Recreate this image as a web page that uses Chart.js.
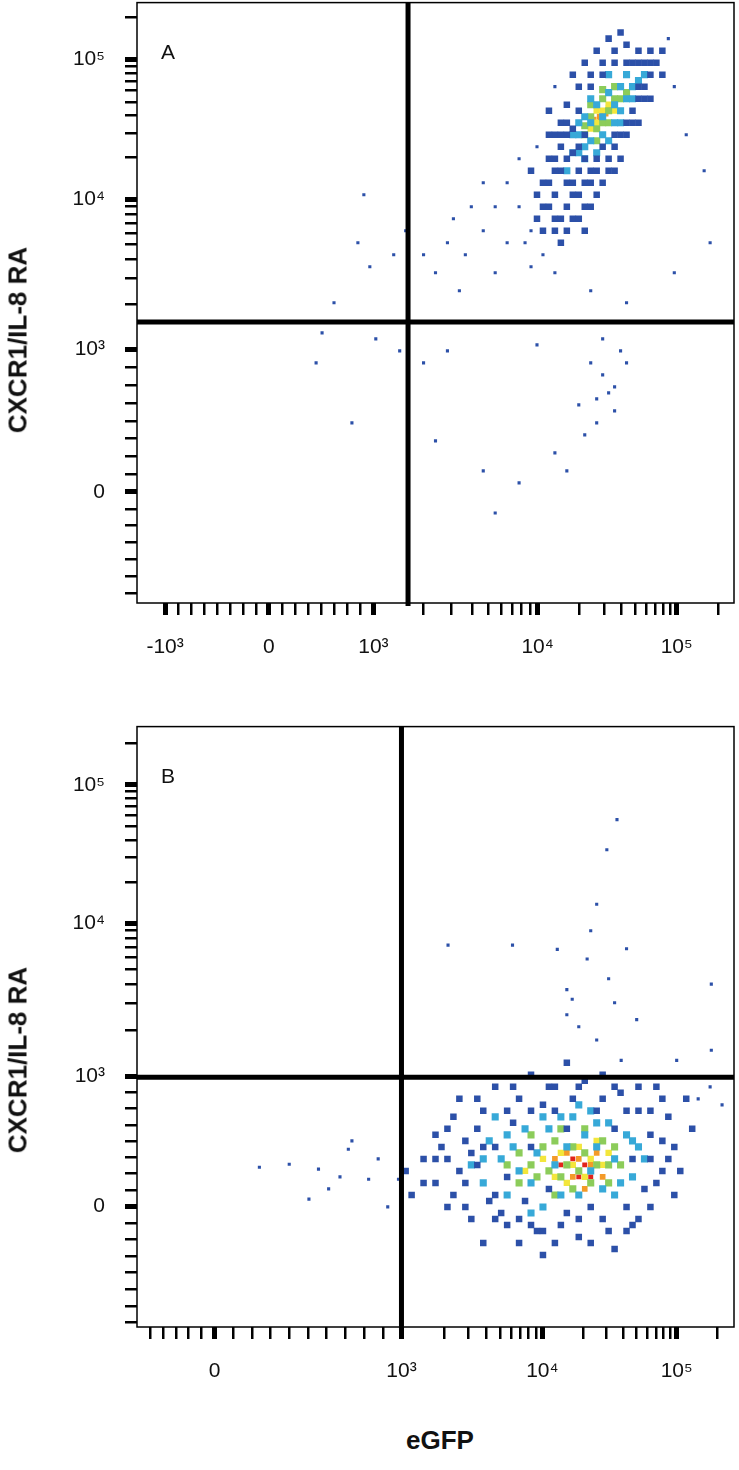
<!DOCTYPE html>
<html><head><meta charset="utf-8">
<script src="https://cdn.jsdelivr.net/npm/chart.js@4"></script>
<style>
body{margin:0;background:#fff;width:739px;height:1470px;position:relative;overflow:hidden;font-family:"Liberation Sans",Arial,sans-serif}
.wrap{position:absolute;left:0;width:739px;height:720px}
.ytitle{position:absolute;left:18px;font-weight:bold;font-size:26px;transform:translate(-50%,-50%) rotate(-90deg);white-space:nowrap;color:#111}
.lbl{position:absolute;font-size:21px;color:#111}
</style></head><body>
<div class="wrap" style="top:-30px"><canvas id="a"></canvas></div>
<div class="wrap" style="top:694px"><canvas id="b"></canvas></div>
<div class="ytitle" style="top:340px">CXCR1/IL-8 RA</div>
<div class="ytitle" style="top:1060px">CXCR1/IL-8 RA</div>
<div style="position:absolute;left:440px;top:1440px;transform:translate(-50%,-50%);font-weight:bold;font-size:26px;color:#111">eGFP</div>
<div class="lbl" style="left:161px;top:40px">A</div>
<div class="lbl" style="left:161px;top:764px">B</div>
<script>
// axis positions in display units (0..100 across each plot)
const aXMajor=[4.7,22.1,39.6,67.1,90.4];
const aXLabels=['-10³','0','10³','10⁴','10⁵'];
const aYMajor=[18.5,42.2,67.2,90.5];
const aYLabels=['0','10³','10⁴','10⁵'];
const bXMajor=[13.0,44.3,67.9,90.4];
const bXLabels=['0','10³','10⁴','10⁵'];
const bYMajor=[20.1,41.8,67.2,90.3];
const bYLabels=['0','10³','10⁴','10⁵'];
const aGate=[45.4,46.8];
const bGate=[44.3,41.6];

const aSparse=[[55,58],[52,60],[58,62],[60,66],[50,55],[62,70],[64,74],[48,58],[56,66],[60,55],[65,60],[45,62],[54,52],[70,55],[76,52],[82,50],[90,55],[95,72],[92,78],[96,60],[58,70],[62,60],[53,64],[66,56],
[37,60],[39,56],[33,50],[31,45],[40,44],[30,40],[36,30],[44,42],[43,58],[38,68],
[76,40],[78,38],[79,35],[80,32],[77,30],[75,28],[74,33],[81,42],[82,40],[70,25],[72,22],[58,22],[50,27],[64,20],[60,15],[48,40],[52,42],[67,43],[78,44],[80,36],[77,34],[66,62],[68,58],[64,66],[89,94],[90,86],[70,86],[67,76]];
const aBlue=[[68,66],[70,64],[70,68],[72,66],[72,70],[71,72],[74,68],[74,72],[73,75],[75,74],[76,70],[71,76],[70,74],[75,78],[73,79],[77,74],[78,76],[80,76],[81,78],[82,80],[83,82],[84,84],[85,86],[86,88],[87,90],[86,92],[84,92],[82,93],[80,92],[78,90],[76,88],[74,86],[72,83],[71,80],[70,78],[79,94],[83,90],[85,90],[88,88],[69,70],[67,68],[72,62],[76,66],[84,80],[80,72],[66,72],[69,82],[78,70],[73,64],[75,62],[68,62],[71,60],[77,68],[79,74],[81,74],[86,84],[88,92],[81,95],[77,92],[75,90],[73,88],[69,66],[71,64],[73,68],[73,70],[75,66],[74,64],[70,62],[68,70],[70,72],[72,74],[72,78],[74,82],[76,86],[78,88],[80,90],[82,90],[84,90],[86,90],[85,84],[84,86],[83,80],[82,78],[80,78],[79,72],[77,72],[76,72],[75,70],[74,76],[72,80],[71,78],[69,74],[67,64],[69,78]];
const aCyan=[[72,72],[73,75],[75,74],[74,78],[76,77],[77,75],[78,78],[79,77],[80,80],[81,82],[82,84],[83,86],[84,87],[81,86],[79,85],[77,83],[75,81],[76,80],[80,83],[78,81],[73,78],[82,88],[85,88],[74,75],[75,76],[81,80],[83,84],[74,80],[79,88],[76,84]];
const aGreen=[[75,78],[76,81],[78,80],[79,82],[77,79],[80,84],[81,84],[82,85],[76,83],[78,84],[79,80],[80,86],[77,77],[75,79.5],[78,85.5]];
const aYellow=[[77,80],[78,82],[79,83],[80,82],[77,82],[76,79]];
const aOrange=[[77.5,81],[78.5,81.5],[79,82.5],[76.5,80.5]];
const aRed=[[78,81.5],[78.6,82],[77.6,80.6]];

const bSparse=[[80.4,84.5],[78.7,79.5],[77,70.4],[75.4,61.3],[72,56.2],[72.9,54.6],[83.7,51.2],[77,47.8],[70.4,62.9],[62.9,63.6],[52.1,63.6],[96.2,57.1],[96.2,46.1],[90.4,44.4],[81.1,44.4],[74,50],[79,58],[82,63],[76,66],[72,52],[80,54],
[20.5,26.6],[25.5,27.1],[30.4,26.3],[35.4,29.6],[32.1,23],[38.8,24.6],[43.8,24.6],[40.4,28],[28.8,21.3],[36,31],[42,20],[34,25],[98,37],[96,40],[94,38]];
const bBlue=[[48,28],[50,24],[50,32],[52,20],[52,28],[53,35],[55,24],[55,31],[56,18],[57,27],[58,36],[59,21],[60,30],[62,17],[62,25],[63,34],[64,38],[65,21],[66,30],[67,16],[68,37],[69,23],[70,40],[71,17],[72,33],[73,38],[74,15],[75,41],[76,20],[77,36],[78,42],[79,16],[80,33],[81,39],[82,20],[83,28],[84,36],[85,23],[86,32],[87,40],[88,26],[89,35],[90,30],[92,38],[45,26],[46,22],[60,40],[66,42],[72,44],[58,14],[68,12],[80,13],[54,38],[90,22],[53,22],[57,33],[61,19],[64,14],[70,14],[76,14],[83,17],[86,20],[88,31],[91,26],[93,33],[84,40],[80,40],[69,40],[63,40],[56,29],[51,30],[54,26],[58,30],[60,22],[62,36],[66,36],[70,36],[74,40],[78,38],[82,36],[86,28],[84,18],[78,18],[72,19],[66,17],[60,18],[48,24],[87,24],[89,28],[50,28],[52,33],[55,20],[57,38],[64,18],[68,16],[74,18],[82,16],[86,36],[88,38]];
const bCyan=[[56,27],[58,24],[59,31],[61,28],[62,22],[63,30],[64,26],[65,33],[66,24],[67,29],[68,20],[69,33],[70,27],[71,22],[72,30],[73,35],[74,22],[75,32],[76,26],[77,30],[78,23],[79,34],[80,28],[81,24],[82,32],[83,25],[84,30],[85,28],[60,35],[74,37],[66,19],[71,35],[77,34],[80,22],[58,28],[62,32],[68,35],[76,36],[83,31]];
const bGreen=[[62,27],[64,29],[66,27],[67,25],[68,30],[69,26],[70,31],[71,25],[72,27],[73,30],[74,26],[75,29],[76,24],[77,27],[78,31],[79,27],[80,30],[81,27],[66,32],[70,22],[73,23],[75,33],[64,24],[71,33],[79,24]];
const bYellow=[[68,28],[70,25],[71,29],[72,24],[73,27],[74,30],[75,25],[76,28],[77,31],[78,27],[79,29],[65,26]];
const bOrange=[[70,28],[72,29],[73,25],[74,28],[76,27],[77,29],[75,23],[78,25]];
const bRed=[[71,27],[73,28],[75,27],[76,25],[74,25]];

function logMinors(a,b){const r=[];for(let k=2;k<=9;k++)r.push(a+(b-a)*Math.log10(k));return r;}
function lin(a,b,n){const r=[];for(let i=1;i<n;i++)r.push(a+(b-a)*i/n);return r;}
const aXMinor=[...lin(4.7,22.1,8),...lin(22.1,39.6,8),...logMinors(39.6,67.1),...logMinors(67.1,90.4),...logMinors(90.4,113.7).filter(v=>v<100)];
const aYMinor=[...lin(-4,18.5,8),...lin(18.5,42.2,8),...logMinors(42.2,67.2),...logMinors(67.2,90.5),...logMinors(90.5,113.8).filter(v=>v<100)];
const bXMinor=[...lin(0,13,6),...lin(13,44.3,10),...logMinors(44.3,67.9),...logMinors(67.9,90.4),...logMinors(90.4,113).filter(v=>v<100)];
const bYMinor=[...lin(-2,20.1,8),...lin(20.1,41.8,8),...logMinors(41.8,67.2),...logMinors(67.2,90.3),...logMinors(90.3,113.4).filter(v=>v<100)];

const colors=['#2c50a8','#2c50a8','#37a9d8','#8ccc5a','#f3e63c','#f39a28','#e2241c'];
const radii=[2.2,4.6,5,5,4.5,4,3.5];
function ds(arr,i){return {data:arr.map(p=>({x:p[0],y:p[1]})),backgroundColor:colors[i],borderWidth:0,pointStyle:'rect',pointRadius:radii[i]};}

const gatePlugin={id:'gate',afterDatasetsDraw(ch,args,opts){const {ctx,chartArea:ca,scales:{x,y}}=ch;ctx.save();ctx.strokeStyle='#000';ctx.lineWidth=5;ctx.beginPath();
 const gx=x.getPixelForValue(opts.g[0]),gy=y.getPixelForValue(opts.g[1]);
 ctx.moveTo(gx,ca.top);ctx.lineTo(gx,ca.bottom+3);ctx.moveTo(ca.left,gy);ctx.lineTo(ca.right,gy);ctx.stroke();
 ctx.lineWidth=1.5;ctx.strokeRect(ca.left,ca.top,ca.right-ca.left,ca.bottom-ca.top);ctx.restore();}};

function axis(major,labels,minor,isX){
 return {type:'linear',min:0,max:100,
  afterBuildTicks(s){s.ticks=[...major.map(v=>({value:v,major:true})),...minor.filter(v=>v>0&&v<100).map(v=>({value:v}))];},
  afterFit(s){if(isX)s.height=87;else s.width=137;},
  ticks:{autoSkip:false,maxRotation:0,color:'#111',font:{family:'Liberation Sans',size:21},padding:20,
   callback(v){const i=major.indexOf(v);return i>=0?labels[i]:'';}},
  grid:{drawOnChartArea:false,drawTicks:true,tickLength:12,color:'#000',
   lineWidth:c=>c.tick&&major.includes(c.tick.value)?5:2.5},
  border:{display:false}};
}
function make(id,sets,xm,xl,xmi,ym,yl,ymi,g){
 new Chart(document.getElementById(id),{type:'scatter',
  data:{datasets:sets.map((s,i)=>ds(s,i))},
  options:{responsive:false,animation:false,devicePixelRatio:1,
   layout:{padding:{top:3,right:1}},
   plugins:{legend:{display:false},tooltip:{enabled:false},gate:{g}},
   scales:{x:axis(xm,xl,xmi,true),y:axis(ym,yl,ymi,false)}},
  plugins:[gatePlugin]});
}
for(const id of ['a','b']){const c=document.getElementById(id);c.width=739;c.height=720;}
make('a',[aSparse,aBlue,aCyan,aGreen,aYellow,aOrange,aRed],aXMajor,aXLabels,aXMinor,aYMajor,aYLabels,aYMinor,aGate);
make('b',[bSparse,bBlue,bCyan,bGreen,bYellow,bOrange,bRed],bXMajor,bXLabels,bXMinor,bYMajor,bYLabels,bYMinor,bGate);
</script></body></html>
